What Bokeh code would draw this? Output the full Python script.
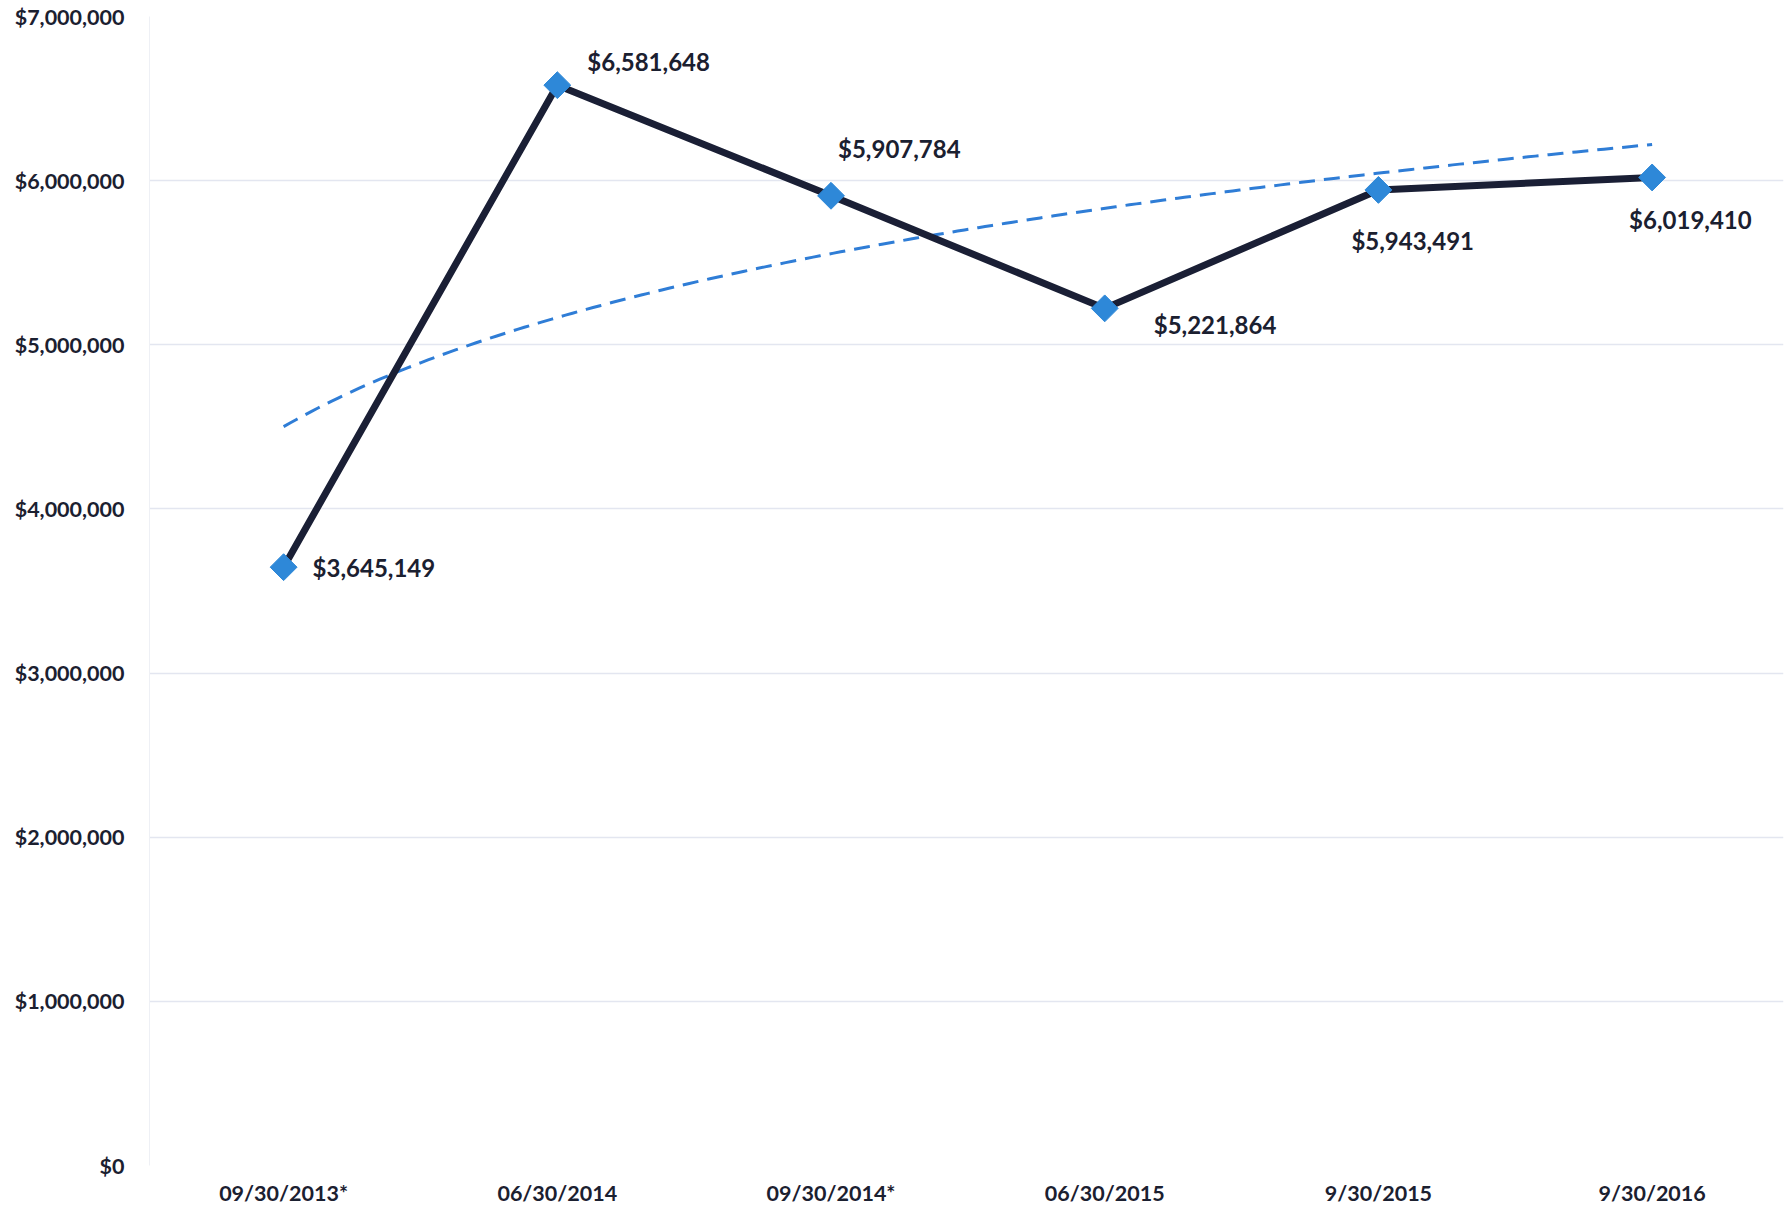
import numpy as np
from bokeh.plotting import figure
from bokeh.models import ColumnDataSource, FixedTicker, NumeralTickFormatter, Range1d, LabelSet
from bokeh.core.properties import value
from bokeh.embed import file_html
from bokeh.resources import INLINE

# ---- data ----
dates = ["09/30/2013*", "06/30/2014", "09/30/2014*", "06/30/2015", "9/30/2015", "9/30/2016"]
amounts = [3645149, 6581648, 5907784, 5221864, 5943491, 6019410]
labels = ["$3,645,149", "$6,581,648", "$5,907,784", "$5,221,864", "$5,943,491", "$6,019,410"]
y_ticks = [0, 1000000, 2000000, 3000000, 4000000, 5000000, 6000000, 7000000]

# label placement (screen px relative to each point; positive dy = up)
label_dx = [29, 30, 7, 49, -27, -23]
label_dy = [0, 24, 47, -16, -51, -42]

FONT = "Lato"
TXT = "#1b2030"

idx = list(range(len(dates)))

# logarithmic trend line (least squares fit of the values on ln(n))
b, a = np.polyfit(np.log(np.array(idx) + 1.0), np.array(amounts, dtype=float), 1)
tx = np.linspace(0, len(dates) - 1, 200)
ty = a + b * np.log(tx + 1.0)

p = figure(width=1784, height=1208, output_backend="svg", toolbar_location=None,
           x_range=Range1d(-0.49, 5.48), y_range=Range1d(0, 7000000),
           min_border_left=149, min_border_right=1, min_border_top=16, min_border_bottom=10)
p.outline_line_color = None
p.background_fill_color = "white"

p.xgrid.grid_line_color = None
p.ygrid.grid_line_color = "#e3e6f0"
p.ygrid.grid_line_width = 1.5
p.yaxis.ticker = FixedTicker(ticks=y_ticks)
p.yaxis.formatter = NumeralTickFormatter(format="$0,0")
p.xaxis.ticker = FixedTicker(ticks=idx)
p.xaxis.major_label_overrides = {i: d for i, d in zip(idx, dates)}

for ax in (p.xaxis, p.yaxis):
    ax.axis_line_color = None
    ax.major_tick_line_color = None
    ax.minor_tick_line_color = None
    ax.major_tick_out = 0
    ax.major_tick_in = 0
    ax.minor_tick_out = 0
    ax.minor_tick_in = 0
    ax.axis_label_standoff = 0
    ax.major_label_text_font = FONT
    ax.major_label_text_font_style = "bold"
    ax.major_label_text_font_size = "21.5px"
    ax.major_label_text_color = TXT
p.yaxis.major_label_standoff = 25
p.xaxis.major_label_standoff = 14
p.yaxis.axis_line_color = "#eef0f5"

src = ColumnDataSource(dict(x=idx, y=amounts, lab=labels, dx=label_dx, dy=label_dy))

p.line(tx, ty, line_color="#2f7dd6", line_width=3, line_dash="16 9")
p.line("x", "y", source=src, line_color="#1a1f35", line_width=7)
p.scatter("x", "y", source=src, marker="square", angle=np.pi / 4, size=19,
          fill_color="#2e88d8", line_color="#2e88d8")
p.add_layout(LabelSet(x="x", y="y", text="lab", source=src, x_offset="dx", y_offset="dy",
                      text_font=value(FONT), text_font_style="bold", text_font_size="24px",
                      text_color=TXT, text_align="left", text_baseline="middle"))

open("out.html", "w").write(file_html(p, INLINE))
